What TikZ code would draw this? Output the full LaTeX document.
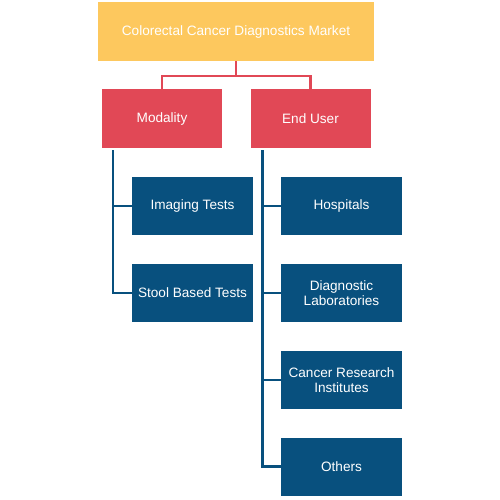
\documentclass[tikz,border=0pt]{standalone}
\usepackage{fontspec}
\setmainfont{Liberation Sans}
\usepackage{tikz}
\usetikzlibrary{positioning, calc}
\definecolor{mktyellow}{HTML}{FDC85E}
\definecolor{mktred}{HTML}{E14856}
\definecolor{mktblue}{HTML}{08507E}
\begin{document}
\begin{tikzpicture}[x=1pt, y=1pt,
    topbox/.style={fill=mktyellow, text=white, minimum width=276pt, minimum height=59pt, inner sep=0pt, font=\fontsize{13.6}{15}\selectfont},
    segbox/.style={fill=mktred, text=white, minimum width=120pt, minimum height=59pt, inner sep=0pt, font=\fontsize{13.6}{15}\selectfont},
    leafbox/.style={fill=mktblue, text=white, minimum width=121pt, minimum height=58pt, inner sep=0pt, align=center, font=\fontsize{13.6}{14.5}\selectfont},
    redline/.style={draw=mktred, line width=2.2pt},
    blueline/.style={draw=mktblue, line width=2.6pt}]
    \useasboundingbox (0,0) rectangle (500,-499);

    % market and segments
    \node[topbox] (market) at (236,-31.5) {Colorectal Cancer Diagnostics Market};
    \node[segbox] (modality) at (162,-118.5) {Modality};
    \node[segbox] (enduser) at (310.5,-118.5) {End User};

    \draw[redline] (market.south) -- ++(0,-15) -| (modality.north);
    \draw[redline] (market.south) -- ++(0,-15) -| (enduser.north);

    % leaves
    \foreach \name/\x/\y/\txt in {
        imaging/192.5/-206/Imaging Tests,
        stool/192.5/-293/Stool Based Tests,
        hospitals/341.5/-206/Hospitals,
        diaglab/341.5/-293/Diagnostic\\Laboratories,
        research/341.5/-380/Cancer Research\\Institutes,
        others/341.5/-466.5/Others}{
        \node[leafbox] (\name) at (\x,\y) {\txt};
    }

    % branches
    \foreach \leaf in {imaging, stool}{
        \draw[blueline] ([xshift=11pt,yshift=-2pt]modality.south west) |- (\leaf.west);
    }
    \foreach \leaf in {hospitals, diaglab, research, others}{
        \draw[blueline] ([xshift=12pt,yshift=-2pt]enduser.south west) |- (\leaf.west);
    }
\end{tikzpicture}
\end{document}
